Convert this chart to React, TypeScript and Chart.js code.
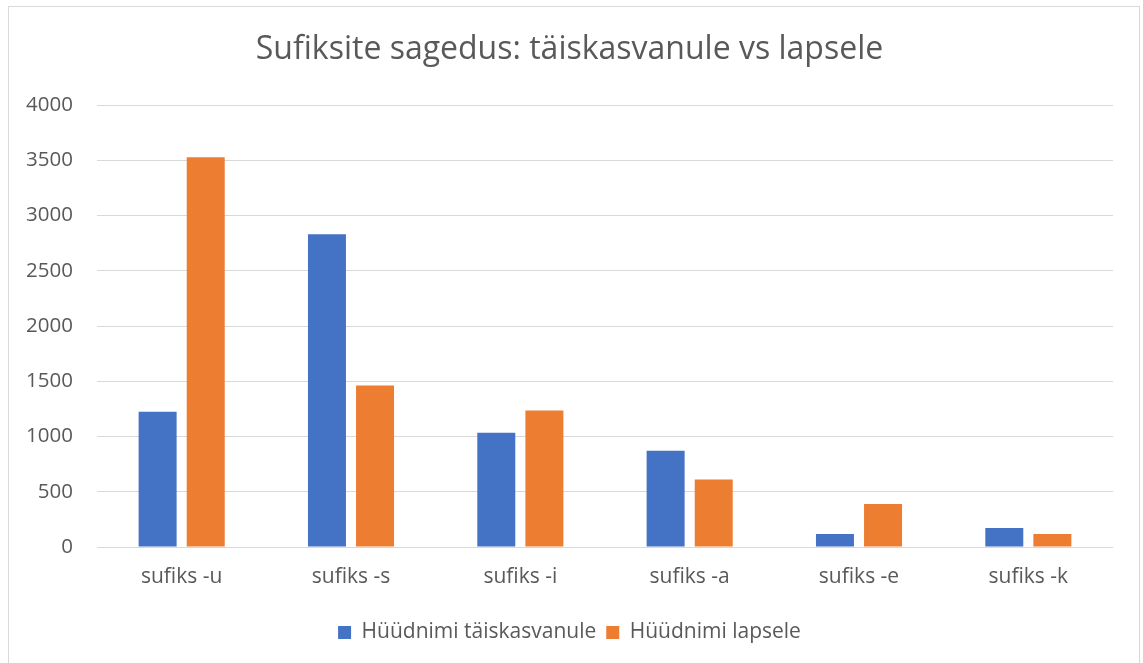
import React, { useEffect, useRef } from "react";
import { Chart, registerables } from "chart.js";

Chart.register(...registerables);

const categories = ["sufiks -u", "sufiks -s", "sufiks -i", "sufiks -a", "sufiks -e", "sufiks -k"];
const adultValues = [1225, 2830, 1035, 870, 118, 172];
const childValues = [3528, 1462, 1235, 610, 390, 118];
const seriesNames = ["Hüüdnimi täiskasvanule", "Hüüdnimi lapsele"];
const titleText = "Sufiksite sagedus: täiskasvanule vs lapsele";

const FONT = "'Open Sans', sans-serif";
const TEXT = "#595959";
const GRID = "#d9d9d9";

export default function App() {
  const ref = useRef<HTMLCanvasElement>(null);
  useEffect(() => {
    if (!ref.current) return;
    const chart = new Chart(ref.current, {
      type: "bar",
      data: {
        labels: categories,
        datasets: [
          { label: seriesNames[0], data: adultValues, backgroundColor: "#4472C4", categoryPercentage: 0.568, barPercentage: 0.79 },
          { label: seriesNames[1], data: childValues, backgroundColor: "#ED7D31", categoryPercentage: 0.568, barPercentage: 0.79 },
        ],
      },
      options: {
        animation: false,
        responsive: false,
        maintainAspectRatio: false,
        layout: { padding: { left: 26, right: 30, top: 0, bottom: 10 } },
        plugins: {
          title: {
            display: true,
            text: titleText,
            color: TEXT,
            font: { family: FONT, size: 32, weight: "normal", lineHeight: 1.2 },
            padding: { top: 30.8, bottom: 35.8 },
          },
          legend: {
            position: "bottom",
            labels: {
              color: TEXT,
              font: { family: FONT, size: 21, lineHeight: 1.2 },
              boxWidth: 13,
              boxHeight: 13,
              padding: 10,
            },
          },
          tooltip: { enabled: false },
        },
        scales: {
          x: {
            grid: { display: false, drawTicks: false },
            border: { display: false },
            ticks: { color: TEXT, font: { family: FONT, size: 21 }, padding: 17, maxRotation: 0 },
            afterFit: (s: any) => { s.height = 65; },
          },
          y: {
            min: 0,
            max: 4000,
            grid: { color: GRID, lineWidth: 1, drawTicks: false },
            border: { display: false },
            ticks: {
              stepSize: 500,
              color: TEXT,
              font: { family: FONT, size: 20.5 },
              padding: 24,
              callback: (v: any) => String(v),
            },
            afterFit: (s: any) => { s.width = 71; },
          },
        },
      },
    });
    return () => chart.destroy();
  }, []);

  return (
    <div style={{ position: "fixed", left: 0, top: 0, width: 1143, height: 663, background: "#fff", overflow: "hidden" }}>
      <div style={{ position: "absolute", left: 8, top: 6, width: 1132, height: 700, border: "1px solid #d9d9d9", boxSizing: "border-box" }} />
      <canvas ref={ref} width={1143} height={663} style={{ position: "absolute", left: 0, top: 0 }} />
    </div>
  );
}
